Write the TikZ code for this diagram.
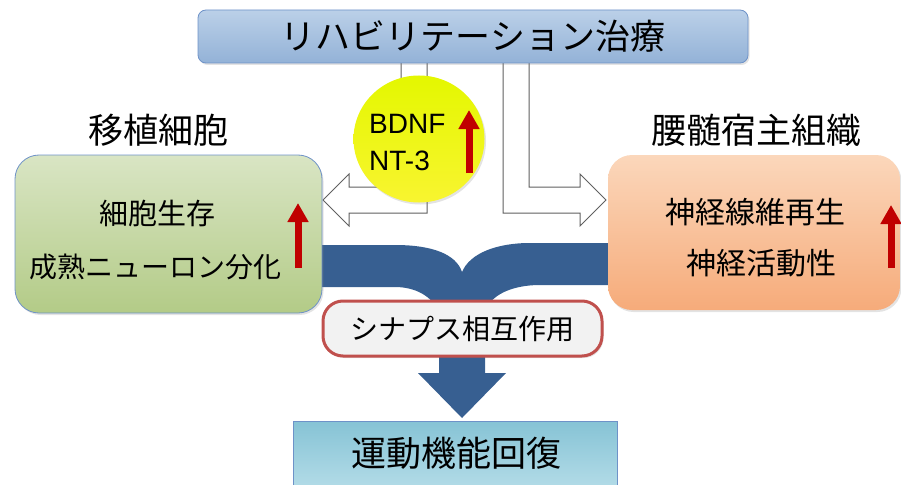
\documentclass[tikz,border=0pt]{standalone}
\usepackage{fontspec}
\setmainfont{Liberation Sans}
\newfontfamily\jp{Noto Sans CJK JP}
\usetikzlibrary{shadows,arrows.meta,shapes.geometric}
\definecolor{bluearrow}{HTML}{375F91}
\definecolor{redarr}{HTML}{C00000}
\definecolor{greentop}{HTML}{D9E5C4}
\definecolor{greenbot}{HTML}{B3CB87}
\definecolor{orgtop}{HTML}{FBD7BB}
\definecolor{orgbot}{HTML}{F6AB7A}
\definecolor{toptop}{HTML}{BBD0E8}
\definecolor{topbot}{HTML}{93B2D7}
\definecolor{boxedge}{HTML}{6E92C8}
\definecolor{cyantop}{HTML}{86C3D5}
\definecolor{cyanbot}{HTML}{B9DFEA}
\definecolor{synred}{HTML}{C0504D}
\definecolor{syngrey}{HTML}{F2F2F2}
\definecolor{ylwtop}{HTML}{E4F700}
\definecolor{ylwbot}{HTML}{F8F530}
\definecolor{arrgray}{HTML}{606060}
\tikzset{
  shad/.style={drop shadow={opacity=0.22,shadow xshift=1.5pt,shadow yshift=-2pt}},
  jptext/.style={font=\jp\fontsize{#1}{#1}\selectfont, inner sep=0pt},
  latintext/.style={font=\fontsize{28}{28}\selectfont, inner sep=0pt},
  upred/.style={draw=redarr, line width=7pt, -{Triangle[width=20pt,length=19pt]}},
  whitearrow/.style={fill=white, draw=arrgray, line width=1pt, line join=miter},
}
\begin{document}
\begin{tikzpicture}[x=1pt,y=-1pt]
\useasboundingbox (0,0) rectangle (901,484);
\clip (0,0) rectangle (901,484);

% merging blue arrow
\fill[bluearrow] (300,245) -- (395,245)
  .. controls (432,245) and (456,254) .. (462,272)
  .. controls (470,253) and (497,243) .. (530,243)
  -- (620,243) -- (620,285) -- (540,285)
  .. controls (512,285) and (490,295) .. (485,312)
  -- (485,373) -- (506,373) -- (462,418) -- (418,373) -- (439,373)
  -- (439,312)
  .. controls (432,296) and (415,287) .. (395,287)
  -- (300,287) -- cycle;

% white bent arrows
\draw[whitearrow] (401,60) -- (401,187) -- (349,187) -- (349,174) -- (323,200)
  -- (349,226) -- (349,213) -- (427,213) -- (427,60);
\draw[whitearrow] (503,60) -- (503,213) -- (580,213) -- (580,226) -- (606,200)
  -- (580,174) -- (580,187) -- (529,187) -- (529,60);

% top box
\node[shad, draw=boxedge, line width=0.8pt, rounded corners=8pt,
  top color=toptop, bottom color=topbot, minimum width=550pt, minimum height=53pt,
  jptext=35] (top) at (473,36.5) {リハビリテーション治療};

% labels
\node[jptext=35] (lgraft) at (158,130) {移植細胞};
\node[jptext=35] (lhost) at (756,130) {腰髄宿主組織};

% green box
\node[shad, draw=boxedge, line width=0.8pt, rounded corners=24pt,
  top color=greentop, bottom color=greenbot, minimum width=307pt, minimum height=158pt]
  (graft) at (168.5,234) {};
\node[jptext=29] (g1) at (157,213) {細胞生存};
\node[jptext=28] (g2) at (155,267) {成熟ニューロン分化};
\coordinate (ga0) at (298,268);
\coordinate (ga1) at (298,203);
\draw[upred] (ga0) -- (ga1);

% orange box
\node[shad, draw=none, rounded corners=24pt,
  top color=orgtop, bottom color=orgbot, minimum width=292pt, minimum height=155pt]
  (host) at (754,232.5) {};
\node[jptext=30] (h1) at (755,212) {神経線維再生};
\node[jptext=30] (h2) at (761,263) {神経活動性};
\coordinate (ha0) at (891,268);
\coordinate (ha1) at (891,205);
\draw[upred] (ha0) -- (ha1);

% yellow circle
\node[shape=ellipse, minimum width=131pt, minimum height=127pt, inner sep=0pt,
  top color=ylwtop, bottom color=ylwbot, shad] (bdnf) at (419,139) {};
\node[latintext, anchor=base west] (b1) at (369,133) {BDNF};
\node[latintext, anchor=base west] (b2) at (369,170) {NT-3};
\coordinate (ba0) at (469,173);
\coordinate (ba1) at (469,110);
\draw[upred] (ba0) -- (ba1);

% synapse box
\node[draw=synred, line width=3pt, rounded corners=20pt, fill=syngrey,
  minimum width=279pt, minimum height=55pt, jptext=28, shad] (syn) at (462.5,328.5) {シナプス相互作用};

% bottom box
\node[draw=boxedge, line width=0.8pt, top color=cyantop, bottom color=cyanbot,
  minimum width=324pt, minimum height=76pt] (motor) at (455,459) {};
\node[jptext=35] (mtext) at (456,453) {運動機能回復};
\end{tikzpicture}
\end{document}
